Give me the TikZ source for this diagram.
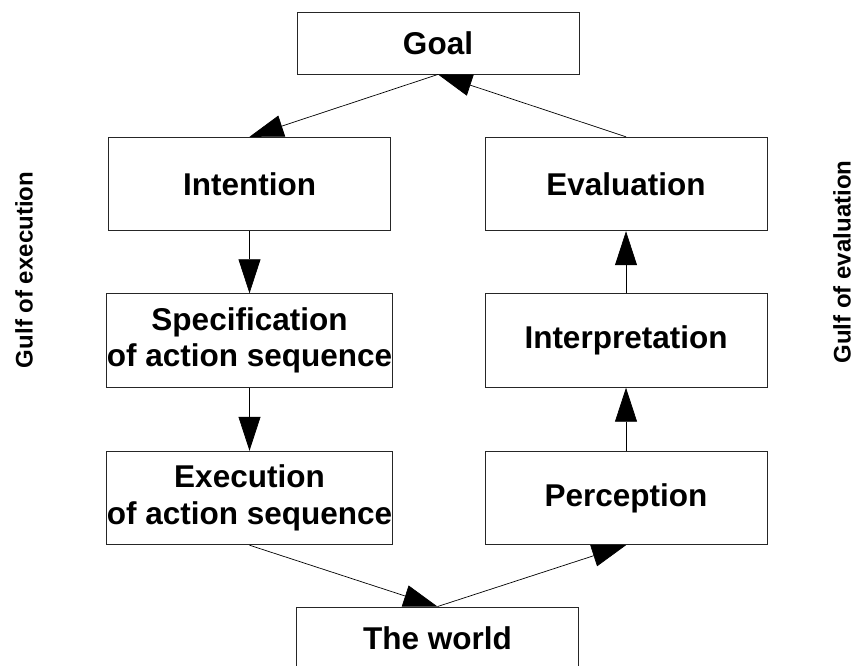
\documentclass[tikz,border=0pt]{standalone}
\usepackage{fontspec}
\setmainfont{Liberation Sans}
\usetikzlibrary{arrows.meta}
\begin{document}
\begin{tikzpicture}[x=1pt,y=-1pt,
  box/.style={draw=black!85, line width=0.9pt, minimum width=282pt, inner sep=0pt,
    font=\fontsize{31.5}{36.5}\selectfont\bfseries, align=center},
  tall/.style={box, minimum height=93.5pt},
  short/.style={box, minimum height=62pt},
  conn/.style={line width=0.7pt, -{Triangle[length=34pt,width=22pt]}},
  gulf/.style={font=\fontsize{24}{28}\selectfont\bfseries, rotate=90}]
\useasboundingbox (0,0) rectangle (864,666);
\clip (0,0) rectangle (864,666);
\node[short] (goal) at (438,43) {Goal};
\node[tall] (intention) at (249.5,184) {Intention};
\node[tall] (spec) at (249.5,340.5) {Specification\\of action sequence};
\node[tall] (exec) at (249.5,498) {Execution\\of action sequence};
\node[tall] (eval) at (626,184) {Evaluation};
\node[tall] (interp) at (626,340.5) {Interpretation};
\node[tall] (perc) at (626,498) {Perception};
\node[short] (world) at (437.5,638) {The world};
\node[gulf] (gexec) at (24,270) {Gulf of execution};
\node[gulf] (geval) at (842,262) {Gulf of evaluation};
\draw[conn] (goal.south) -- (intention.north);
\draw[conn] (intention.south) -- (spec.north);
\draw[conn] (spec.south) -- (exec.north);
\draw[conn] (exec.south) -- (world.north);
\draw[conn] (world.north) -- (perc.south);
\draw[conn] (perc.north) -- (interp.south);
\draw[conn] (interp.north) -- (eval.south);
\draw[conn] (eval.north) -- (goal.south);
\end{tikzpicture}
\end{document}
